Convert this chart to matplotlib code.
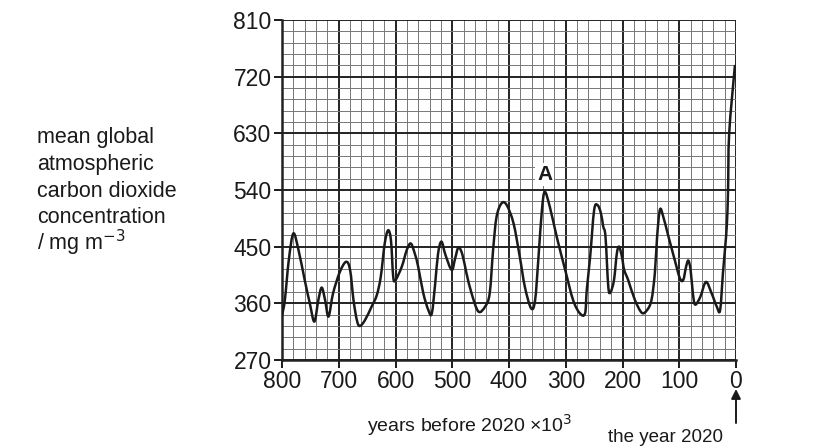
import numpy as np
import matplotlib
matplotlib.use('Agg')
import matplotlib.pyplot as plt
from matplotlib.path import Path
from matplotlib.patches import PathPatch

plt.rcParams['font.family'] = ['Liberation Sans', 'DejaVu Sans']

# thousands of years before 2020 / CO2 concentration in mg m^-3
years_before = [800, 795, 788, 780, 771, 760, 751, 743, 736, 730, 724, 718, 710, 698,
                687, 680, 674, 668, 663, 654, 642, 633, 626, 619, 613, 608, 604, 600,
                589, 580, 573, 566, 560, 551, 542, 536, 530, 525, 519, 512, 501, 495,
                489, 482, 475, 466, 454, 442, 434, 428, 422, 413, 404, 392, 381, 372,
                361, 354, 348, 342, 337, 328, 316, 301, 287, 275, 266, 263, 257, 250,
                244, 238, 234, 230, 225, 221, 215, 210, 206, 201, 197, 190, 178, 166,
                157, 149, 143, 139, 134, 128, 119, 108, 99, 93, 88, 84, 80, 76, 72,
                63, 53, 43, 34, 28, 23, 19, 16, 14, 12, 2]
co2 = [341, 365, 429, 471, 445, 397, 360, 331, 365, 385, 365, 339, 376, 410,
       426, 413, 365, 333, 324, 333, 355, 373, 402, 455, 476, 460, 402, 397,
       418, 445, 455, 439, 418, 376, 349, 344, 392, 439, 458, 437, 413, 431,
       449, 437, 408, 376, 347, 355, 376, 445, 497, 519, 516, 487, 434, 386,
       352, 365, 434, 508, 537, 513, 466, 413, 365, 344, 344, 381, 434, 508,
       516, 503, 482, 466, 386, 378, 397, 439, 450, 434, 413, 397, 365, 345,
       349, 365, 408, 466, 509, 497, 466, 429, 400, 397, 418, 428, 413, 376, 358,
       370, 394, 376, 355, 349, 408, 450, 487, 540, 630, 737]

x_ticks = [800, 700, 600, 500, 400, 300, 200, 100, 0]
y_ticks = [270, 360, 450, 540, 630, 720, 810]

y_label_lines = ['mean global', 'atmospheric', 'carbon dioxide', 'concentration',
                 '/ mg m$^{-3}$']
x_label = 'years before 2020 \u00d710$^3$'
peak_label = 'A'
peak_pos = (337, 565)


def smooth_path(xs, ys):
    # Catmull-Rom through the read points, drawn as cubic Bezier segments
    p = np.column_stack([xs, ys]).astype(float)
    p = np.vstack([p[0], p, p[-1]])
    verts = [p[1]]
    codes = [Path.MOVETO]
    for i in range(1, len(p) - 2):
        c1 = p[i] + (p[i + 1] - p[i - 1]) / 6
        c2 = p[i + 1] - (p[i + 2] - p[i]) / 6
        verts += [c1, c2, p[i + 1]]
        codes += [Path.CURVE4] * 3
    return Path(verts, codes)


fig = plt.figure(figsize=(8.34, 4.47), dpi=100)
ax = fig.add_axes([282 / 834, 1 - 360 / 447, 454 / 834, 340 / 447])

ax.set_xlim(800, 0)
ax.set_ylim(270, 810)
ax.set_xticks(x_ticks)
ax.set_yticks(y_ticks)
ax.set_xticks(np.arange(0, 801, 20), minor=True)
ax.set_yticks(np.arange(270, 811, 18), minor=True)

ax.grid(which='minor', color='#777777', lw=0.7)
ax.grid(which='major', color='#222222', lw=1.4)
ax.set_axisbelow(True)

ax.tick_params(which='major', direction='out', length=6, width=1.4, labelsize=16.5,
               colors='#1a1a1a', pad=1.5)
ax.tick_params(which='minor', length=0)
for s in ['top', 'right']:
    ax.spines[s].set_visible(False)
for s in ['left', 'bottom']:
    ax.spines[s].set_linewidth(1.8)
    ax.spines[s].set_color('#222222')

ax.add_patch(PathPatch(smooth_path(years_before, co2), facecolor='none',
                       edgecolor='#1a1a1a', lw=1.8, joinstyle='round',
                       capstyle='round', zorder=3))

ax.text(peak_pos[0], peak_pos[1], peak_label, fontsize=15, fontweight='bold',
        ha='center', va='center', color='#1a1a1a', zorder=4,
        bbox=dict(facecolor='white', edgecolor='none', pad=1.5))

for i, line in enumerate(y_label_lines):
    fig.text(37 / 834, 1 - (143 + 26.8 * i) / 447, line, fontsize=15.5, ha='left',
             va='baseline', color='#1a1a1a')
fig.text(470 / 834, 1 - 425 / 447, x_label, fontsize=14, ha='center', va='center',
         color='#1a1a1a')
fig.text(665 / 834, 1 - 437 / 447, 'the year 2020', fontsize=13.5, ha='center',
         va='center', color='#1a1a1a')

ax.annotate('', xy=(736, 447 - 389), xytext=(736, 447 - 423),
            xycoords='figure pixels', textcoords='figure pixels',
            arrowprops=dict(arrowstyle='-|>', color='#1a1a1a', lw=1.4,
                            mutation_scale=14, shrinkA=0, shrinkB=0))

fig.savefig('out.png', dpi=100, facecolor='white')
